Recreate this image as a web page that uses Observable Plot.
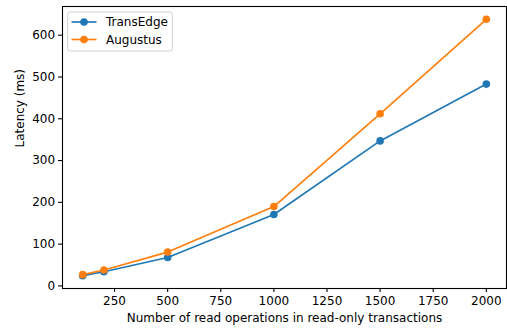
<!DOCTYPE html>
<html>
<head>
<meta charset="utf-8">
<script src="https://cdn.jsdelivr.net/npm/d3@7"></script>
<script src="https://cdn.jsdelivr.net/npm/@observablehq/plot@0.6"></script>
<style>
  html, body { margin: 0; padding: 0; background: #fff; }
  #chart svg { display: block; }
</style>
</head>
<body>
<div id="chart"></div>
<script>
// Read-operation counts per read-only transaction
const readOps = [100, 200, 500, 1000, 1500, 2000];
// Latency (ms) per system
const transEdge = [24.5, 34, 68, 171, 347, 483];
const augustus = [27, 38, 81, 190, 412, 638];
const seriesNames = ["TransEdge", "Augustus"];
const seriesColors = ["#1f77b4", "#ff7f0e"];
const xTicks = [250, 500, 750, 1000, 1250, 1500, 1750, 2000];
const yTicks = [0, 100, 200, 300, 400, 500, 600];

const rows = [
  ...readOps.map((x, i) => ({x, y: transEdge[i], s: seriesNames[0]})),
  ...readOps.map((x, i) => ({x, y: augustus[i], s: seriesNames[1]}))
];

// Pad both domains by 5% of the data range
function padded(values) {
  const [lo, hi] = d3.extent(values);
  const m = (hi - lo) * 0.05;
  return [lo - m, hi + m];
}

const font = "'DejaVu Sans', sans-serif";
const fs = 12;
const dotR = 3.8;

const chart = Plot.plot({
  width: 507,
  height: 331,
  marginLeft: 62,
  marginRight: 1,
  marginTop: 6,
  marginBottom: 43,
  style: {fontFamily: font, fontSize: fs + "px", color: "#000", background: "#fff"},
  x: {domain: padded(readOps), insetLeft: 0, insetRight: 0},
  y: {domain: padded([...transEdge, ...augustus])},
  color: {domain: seriesNames, range: seriesColors},
  marks: [
    Plot.axisX({ticks: xTicks, tickFormat: d => String(d), tickSize: 3.9, tickPadding: 3.8, label: null, fontSize: fs, strokeWidth: 1.1}),
    Plot.axisY({ticks: yTicks, tickFormat: d => String(d), tickSize: 3.9, tickPadding: 3.5, label: null, fontSize: fs, strokeWidth: 1.1}),
    Plot.line(rows, {x: "x", y: "y", z: "s", stroke: "s", strokeWidth: 1.67}),
    Plot.dot(rows, {x: "x", y: "y", fill: "s", r: dotR}),
    Plot.frame({stroke: "#000", strokeWidth: 1.1}),
    Plot.text(["Number of read operations in read-only transactions"], {
      frameAnchor: "bottom", dy: 29.5, lineAnchor: "middle", fontSize: fs, fill: "#000"
    }),
    Plot.text(["Latency (ms)"], {
      frameAnchor: "left", dx: -42, rotate: -90, lineAnchor: "middle", fontSize: fs, fill: "#000"
    })
  ]
});

// Legend in the upper-left corner of the plot area
const svg = d3.select(chart);
const lg = svg.append("g")
  .attr("font-family", font).attr("font-size", fs).attr("text-anchor", "start");
lg.append("rect")
  .attr("x", 67.7).attr("y", 12).attr("width", 104.6).attr("height", 39)
  .attr("rx", 2.5).attr("fill", "#fff").attr("fill-opacity", 0.8)
  .attr("stroke", "#d0d0d0").attr("stroke-width", 1);
seriesNames.forEach((name, i) => {
  const cy = 22 + i * 17.5;
  lg.append("line").attr("x1", 71.5).attr("x2", 96.5).attr("y1", cy).attr("y2", cy)
    .attr("stroke", seriesColors[i]).attr("stroke-width", 1.67);
  lg.append("circle").attr("cx", 84).attr("cy", cy).attr("r", dotR).attr("fill", seriesColors[i]);
  lg.append("text").attr("x", 106).attr("y", cy).attr("dy", "0.35em")
    .attr("fill", "#000").attr("text-anchor", "start").text(name);
});

document.getElementById("chart").appendChild(chart);
</script>
</body>
</html>
